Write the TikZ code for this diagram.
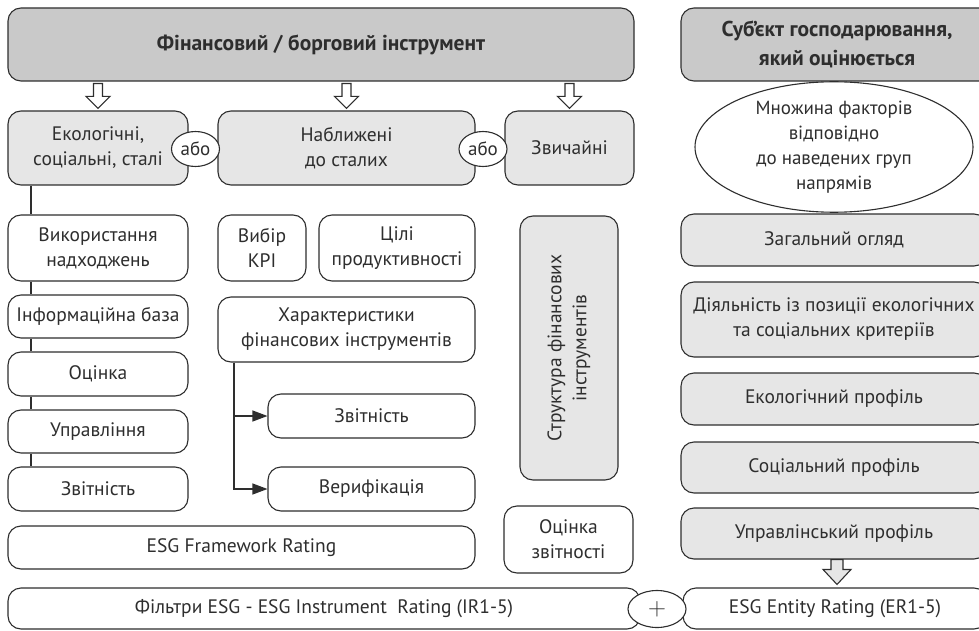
\documentclass[tikz,border=0pt]{standalone}
\usepackage{fontspec}
\setmainfont{PT Sans}
\usetikzlibrary{arrows.meta,calc,shapes.geometric}
\definecolor{dk}{HTML}{C9C9C9}
\definecolor{lt}{HTML}{E6E6E6}
\definecolor{ln}{HTML}{2E2E2E}
\newcommand\hollowarrow[6]{% #1 fill, #2 top, #3 tip, #4 half shaft, #5 half head, #6 head length
  \draw[hollow, fill=#1] let \p1=#2, \p2=#3 in
    (\x2-#4,\y1) -- (\x2+#4,\y1) -- (\x2+#4,\y2+#6) -- (\x2+#5,\y2+#6) -- (\x2,\y2)
    -- (\x2-#5,\y2+#6) -- (\x2-#4,\y2+#6) -- cycle;}
\begin{document}
\begin{tikzpicture}[x=1pt,y=-1pt,
  base/.style={draw=ln, line width=1.1pt, rounded corners=13pt, align=center,
    inner sep=0pt, text=ln, font=\fontsize{19.5}{25}\selectfont},
  wbox/.style={base, fill=white},
  lbox/.style={base, fill=lt},
  dbox/.style={base, fill=dk, font=\bfseries\fontsize{21.5}{29}\selectfont},
  orell/.style={ellipse, draw=ln, line width=1.1pt, fill=white, inner sep=0pt,
    text=ln, font=\fontsize{19}{25}\selectfont, align=center},
  link/.style={draw=ln, line width=1.1pt},
  hollow/.style={draw=ln, line width=1.1pt, line join=miter},
  tip/.style={-{Triangle[length=15pt,width=11pt]}},
]
\useasboundingbox (0,0) rectangle (979,631);

% top row
\node[dbox, minimum width=626, minimum height=73] (fin) at (321,44.5) {Фінансовий / борговий інструмент};
\node[dbox, minimum width=312, minimum height=73] (subj) at (837,44.5) {Суб’єкт господарювання,\\який оцінюється};

% second row
\node[lbox, minimum width=180, minimum height=74] (eco) at (98,148) {Екологічні,\\соціальні, сталі};
\node[lbox, minimum width=257, minimum height=74] (near) at (346.5,148) {Наближені\\до сталих};
\node[lbox, minimum width=129, minimum height=74] (usual) at (569.5,148) {Звичайні};
\node[orell, minimum width=48, minimum height=35] (or1) at (195.5,149) {або};
\node[orell, minimum width=48, minimum height=35] (or2) at (483,149) {або};
\node[orell, minimum width=278, minimum height=114] (factors) at (834,147) {Множина факторів\\відповідно\\до наведених груп\\напрямів};

\hollowarrow{white}{($(fin.south -| eco.north)+(0,2)$)}{($(eco.north)+(0,-2)$)}{4.5pt}{12pt}{12pt}
\hollowarrow{white}{($(fin.south -| near.north)+(0,2)$)}{($(near.north)+(0,-2)$)}{4.5pt}{12pt}{12pt}
\hollowarrow{white}{($(fin.south -| usual.north)+(0,2)$)}{($(usual.north)+(0,-2)$)}{4.5pt}{12pt}{12pt}

% left column
\node[wbox, minimum width=180, minimum height=66] (use) at (98,248) {Використання\\надходжень};
\node[wbox, minimum width=180, minimum height=43] (info) at (98,316.5) {Інформаційна база};
\node[wbox, minimum width=180, minimum height=44] (eval) at (98,374) {Оцінка};
\node[wbox, minimum width=180, minimum height=43] (mgmt) at (98,431.5) {Управління};
\node[wbox, minimum width=180, minimum height=44] (rep1) at (98,489) {Звітність};
\coordinate (lx) at (31,0);
\draw[link] (eco.south -| lx) -- (use.north -| lx);
\draw[link] (use.south -| lx) -- (info.north -| lx);
\draw[link] (info.south -| lx) -- (eval.north -| lx);
\draw[link] (eval.south -| lx) -- (mgmt.north -| lx);
\draw[link] (mgmt.south -| lx) -- (rep1.north -| lx);

% middle column
\node[wbox, minimum width=88, minimum height=66] (kpi) at (262,248) {Вибір\\KPI};
\node[wbox, minimum width=156, minimum height=66] (goals) at (397,248) {Цілі\\продуктивності};
\node[wbox, minimum width=257, minimum height=65] (chars) at (346.5,329.5) {Характеристики\\фінансових інструментів};
\node[wbox, minimum width=207, minimum height=44] (rep2) at (371.5,416) {Звітність};
\node[wbox, minimum width=207, minimum height=44] (ver) at (371.5,489) {Верифікація};
\coordinate (mx) at (234,0);
\draw[link, tip] (chars.south -| mx) |- (rep2.west);
\draw[link, tip] (chars.south -| mx) |- (ver.west);

\node[lbox, rotate=90, minimum width=264, minimum height=98] (struct) at (569,348) {Структура фінансових\\інструментів};
\node[wbox, minimum width=129, minimum height=67] (repev) at (568.5,539.5) {Оцінка\\звітності};

% bottom
\node[wbox, minimum width=467, minimum height=43] (esgfw) at (241.5,547.5) {ESG Framework Rating};
\node[wbox, minimum width=632, minimum height=41] (filt) at (324,608.5) {Фільтри ESG - ESG Instrument\ \ Rating (IR1-5)};
\node[wbox, minimum width=304, minimum height=41] (ent) at (835,608.5) {ESG Entity Rating (ER1-5)};
\node[orell, minimum width=58, minimum height=37, font=\fontsize{26}{26}\selectfont] (plus) at (657,609) {$+$};

% right column
\node[lbox, minimum width=306, minimum height=52] (overview) at (834,240) {Загальний огляд};
\node[lbox, minimum width=306, minimum height=75] (activity) at (834,319.5) {Діяльність із позиції екологічних\\та соціальних критеріїв};
\node[lbox, minimum width=306, minimum height=52] (ecoprof) at (834,399) {Екологічний профіль};
\node[lbox, minimum width=306, minimum height=51] (socprof) at (834,467.5) {Соціальний профіль};
\node[lbox, minimum width=306, minimum height=51] (govprof) at (834,533.5) {Управлінський профіль};

\hollowarrow{lt}{($(govprof.south)+(3,0)$)}{($(ent.north)+(2,-3)$)}{6pt}{14pt}{15pt}
\end{tikzpicture}
\end{document}
